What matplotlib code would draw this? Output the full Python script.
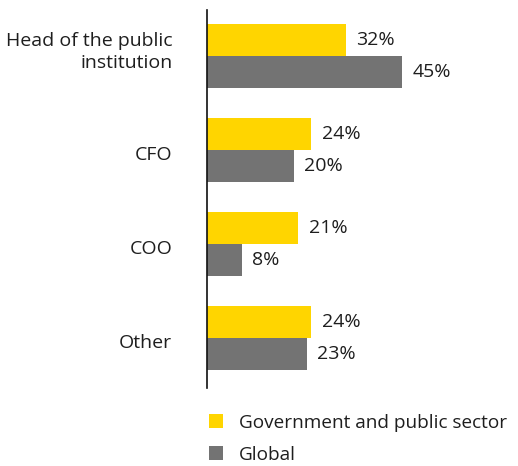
import matplotlib.pyplot as plt
import matplotlib.transforms as mtransforms
import numpy as np

roles = ["Head of the public\ninstitution", "CFO", "COO", "Other"]
gov_public = [32, 24, 21, 24]
global_all = [45, 20, 8, 23]
series_names = ["Government and public sector", "Global"]

YELLOW = "#FFD500"
GREY = "#737373"
TEXT = "#1e1e1e"

plt.rcParams['font.family'] = ['Open Sans', 'DejaVu Sans']
plt.rcParams['font.size'] = 14

fig = plt.figure(figsize=(5.18, 4.66), dpi=100)
ax = fig.add_axes([207 / 518, 1 - 388 / 466, 304 / 518, 378 / 466])

y = np.arange(len(roles))
h = 0.34
b1 = ax.barh(y - h / 2, gov_public, height=h, color=YELLOW, label=series_names[0])
b2 = ax.barh(y + h / 2, global_all, height=h, color=GREY, label=series_names[1])

for bars, vals in ((b1, gov_public), (b2, global_all)):
    for bar, v in zip(bars, vals):
        ax.text(bar.get_width() + 2.4, bar.get_y() + bar.get_height() / 2, f"{v}%",
                va="center", ha="left", color=TEXT, fontsize=14)

ax.set_xlim(0, 70)
ax.set_ylim(3.53, -0.49)
ax.set_yticks(y)
ax.set_yticklabels(roles, color=TEXT, fontsize=14, linespacing=1.25)
ax.tick_params(axis="y", length=0, pad=25)
ax.set_xticks([])
for side in ("top", "right", "bottom"):
    ax.spines[side].set_visible(False)
ax.spines["left"].set_linewidth(1.2)
ax.spines["left"].set_color("#111111")

# two-line label sits a little higher than its bar pair; single-line ones a bit lower
labels = ax.get_yticklabels()
for i, lab in enumerate(labels):
    dy = 8 if "\n" in lab.get_text() else -3
    lab.set_transform(lab.get_transform() +
                      mtransforms.ScaledTranslation(0, dy / 100, fig.dpi_scale_trans))

fig.legend(handles=[b1, b2], loc="upper left", bbox_to_anchor=(201 / 518, 1 - 406 / 466),
           frameon=False, fontsize=13.7, handlelength=0.74, handleheight=0.74,
           handletextpad=0.85, labelspacing=0.75, borderaxespad=0, labelcolor=TEXT)

fig.savefig("out.png", dpi=100)
